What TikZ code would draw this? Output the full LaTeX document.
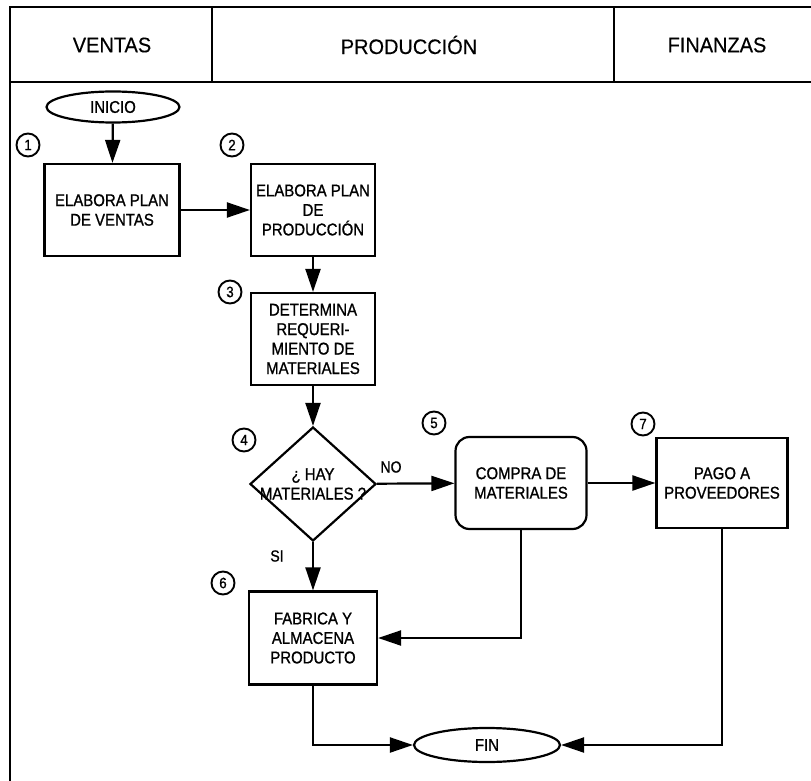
\documentclass[tikz,border=0pt]{standalone}
\usepackage{fontspec}
\setmainfont{Liberation Sans}
\newfontfamily\boxfont{Liberation Sans}[FakeStretch=0.88,FakeBold=1]
\newfontfamily\headfont{Liberation Sans}[FakeStretch=0.95,FakeBold=0.4]
\usetikzlibrary{shapes.geometric,arrows.meta}
\begin{document}
\begin{tikzpicture}[x=1pt,y=-1pt,
  lw/.style={line width=2.2pt},
  boxtext/.style={align=center,font=\boxfont\fontsize{17}{19.5}\selectfont},
  proc/.style={draw,lw,inner sep=0pt,boxtext},
  term/.style={draw,lw,ellipse,inner sep=0pt,boxtext},
  numc/.style={draw,circle,line width=1.9pt,minimum size=23pt,inner sep=0pt,
    font=\boxfont\fontsize{15}{15}\selectfont},
  head/.style={font=\headfont\fontsize{21}{23}\selectfont},
  lbl/.style={font=\boxfont\fontsize{16}{18}\selectfont},
  flow/.style={lw,-{Triangle[length=23pt,width=15pt]}}]
\useasboundingbox (0,0) rectangle (811,781);

% swimlane frame and header
\draw[lw] (10,781) -- (10,7) -- (811,7);
\draw[lw] (10,82) -- (811,82);
\draw[lw] (212,7) -- (212,82);
\draw[lw] (614,7) -- (614,82);
\node[head] (hventas) at (112,45) {VENTAS};
\node[head] (hprod) at (409,45) {PRODUCCIÓN};
\node[head] (hfin) at (717,45) {FINANZAS};

% flow elements
\node[term,minimum width=133pt,minimum height=31pt] (ini) at (113,107) {INICIO};
\node[proc,minimum width=135pt,minimum height=92pt] (b1) at (112,210) {ELABORA PLAN\\DE VENTAS};
\node[proc,minimum width=124pt,minimum height=92pt] (b2) at (313,210) {ELABORA PLAN\\DE\\PRODUCCIÓN};
\node[proc,minimum width=124pt,minimum height=92pt] (b3) at (313,339) {DETERMINA\\REQUERI-\\MIENTO DE\\MATERIALES};
\node[draw,lw,diamond,minimum width=126pt,minimum height=114pt,inner sep=0pt] (dia) at (313,484) {};
\node[boxtext] (diatext) at (dia.center) {¿ HAY\\MATERIALES ?};
\node[proc,rounded corners=14pt,minimum width=131pt,minimum height=92pt] (b5) at (521,483) {COMPRA DE\\MATERIALES};
\node[proc,minimum width=131pt,minimum height=90pt] (b7) at (722,483) {PAGO A\\PROVEEDORES};
\node[proc,minimum width=128pt,minimum height=93pt] (b6) at (313,638) {FABRICA Y\\ALMACENA\\PRODUCTO};
\node[term,minimum width=146pt,minimum height=34pt] (fin) at (487,745) {FIN};

% step numbers
\node[numc] (n1) at (28,145) {1};
\node[numc] (n2) at (232,145) {2};
\node[numc] (n3) at (230,292) {3};
\node[numc] (n4) at (244,440) {4};
\node[numc] (n5) at (434,423) {5};
\node[numc] (n6) at (223,583) {6};
\node[numc] (n7) at (643,424) {7};

% branch labels
\node[lbl] (lno) at (391,467) {NO};
\node[lbl] (lsi) at (277,556) {SI};

% connectors
\draw[flow] (ini) -- (b1);
\draw[flow] (b1) -- (b2);
\draw[flow] (b2) -- (b3);
\draw[flow] (b3) -- (dia);
\draw[flow] (dia) -- (b5);
\draw[flow] (b5) -- (b7);
\draw[flow] (dia) -- (b6);
\draw[flow] (b5.south) |- (b6.east);
\draw[flow] (b6.south) |- (fin.west);
\draw[flow] (b7.south) |- (fin.east);
\end{tikzpicture}
\end{document}
